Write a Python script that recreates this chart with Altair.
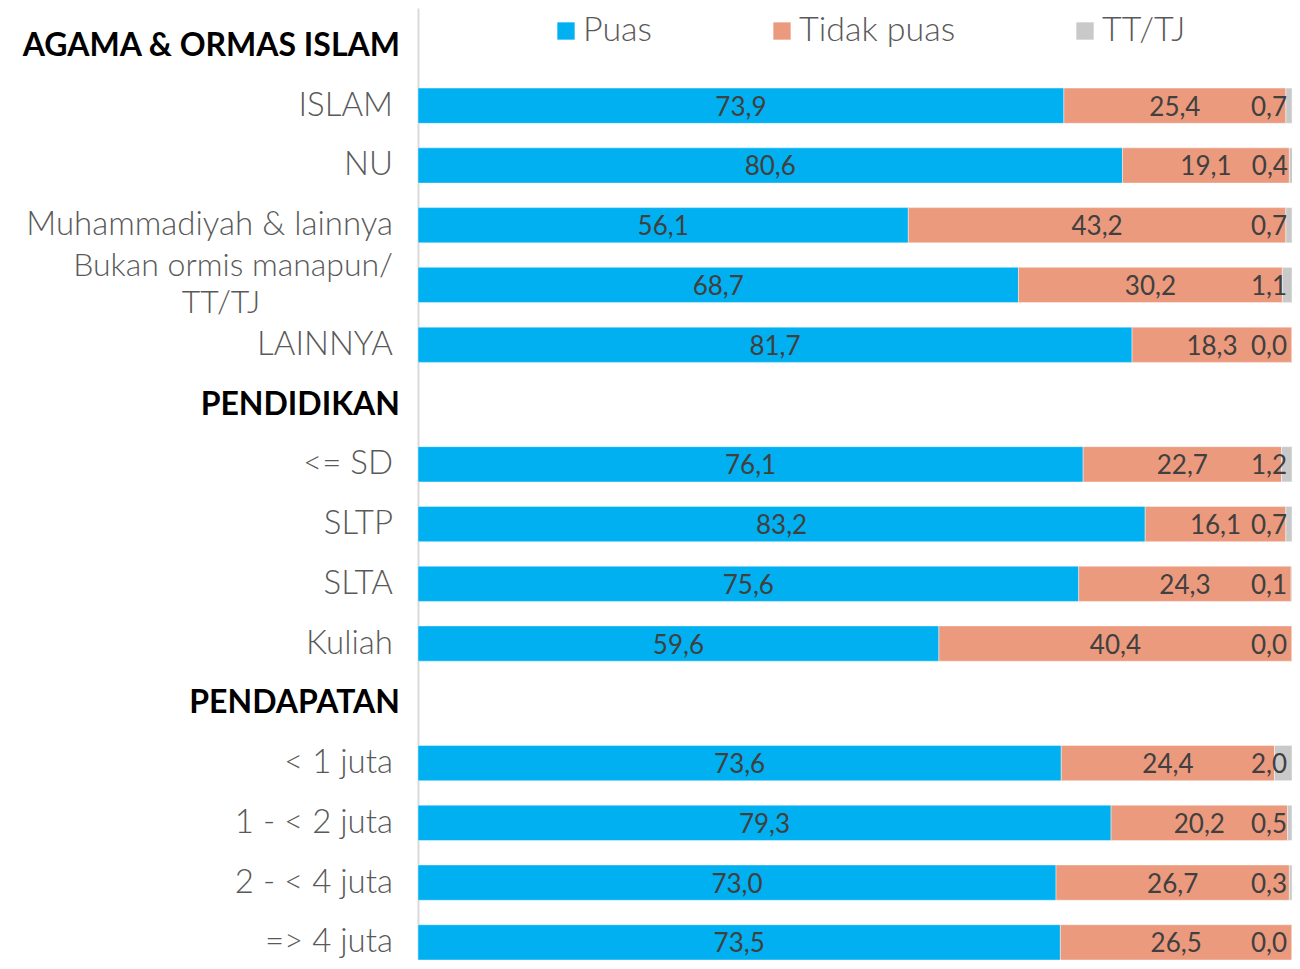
import altair as alt
import pandas as pd

rows = ["AGAMA & ORMAS ISLAM", "ISLAM", "NU", "Muhammadiyah & lainnya",
        "Bukan ormis manapun/\nTT/TJ", "LAINNYA", "PENDIDIKAN", "<= SD", "SLTP",
        "SLTA", "Kuliah", "PENDAPATAN", "< 1 juta", "1 - < 2 juta",
        "2 - < 4 juta", "=> 4 juta"]
is_header = [True, False, False, False, False, False, True, False, False,
             False, False, True, False, False, False, False]
puas = [None, 73.9, 80.6, 56.1, 68.7, 81.7, None, 76.1, 83.2, 75.6, 59.6,
        None, 73.6, 79.3, 73.0, 73.5]
tidak_puas = [None, 25.4, 19.1, 43.2, 30.2, 18.3, None, 22.7, 16.1, 24.3, 40.4,
              None, 24.4, 20.2, 26.7, 26.5]
tt_tj = [None, 0.7, 0.4, 0.7, 1.1, 0.0, None, 1.2, 0.7, 0.1, 0.0,
         None, 2.0, 0.5, 0.3, 0.0]
series = ["Puas", "Tidak puas", "TT/TJ"]
colors = ["#00B0F0", "#EC9A7D", "#C9C9C9"]

recs = []
for i, r in enumerate(rows):
    if puas[i] is None:
        continue
    vals = [puas[i], tidak_puas[i], tt_tj[i]]
    start = 0.0
    for k, s in enumerate(series):
        v = vals[k]
        recs.append(dict(row=r, series=s, order=k, start=start, end=start + v,
                         mid=start + v / 2, label=f"{v:.1f}".replace(".", ",")))
        start += v
df = pd.DataFrame(recs)

lab_rows = []
for r, h in zip(rows, is_header):
    parts = r.split("\n")
    lab_rows.append(dict(row=r, line1=parts[0],
                         line2=parts[1] if len(parts) > 1 else "",
                         header=h, multi=len(parts) > 1))
lab = pd.DataFrame(lab_rows)

FONT = "Lato"
yenc = alt.Y("row:N", scale=alt.Scale(domain=rows, paddingInner=0.41,
                                       paddingOuter=0.17, align=1),
             axis=alt.Axis(labels=False, ticks=False, title=None, grid=False,
                           domainColor="#D9D9D9", domainWidth=2))
xscale = alt.Scale(domain=[0, 100], nice=False, zero=True)

bars = alt.Chart(df).mark_bar(stroke="white", strokeWidth=0.6, strokeOpacity=0.7).encode(
    x=alt.X("start:Q", scale=xscale, axis=None),
    x2="end:Q",
    y=yenc,
    color=alt.Color("series:N", scale=alt.Scale(domain=series, range=colors),
                    legend=alt.Legend(title=None, orient="none", legendX=131, legendY=6,
                                      direction="horizontal", columns=3,
                                      columnPadding=112, labelFontSize=34,
                                      labelFont=FONT, labelColor="#595959",
                                      labelFontWeight=300, labelLimit=400,
                                      symbolType="square", symbolSize=300,
                                      symbolStrokeWidth=0, labelOffset=0,
                                      padding=0)),
)

mid_text = alt.Chart(df).transform_filter(
    alt.FieldOneOfPredicate(field="series", oneOf=["Puas", "Tidak puas"])
).mark_text(align="center", baseline="middle", fontSize=26, font=FONT,
            color="#404040", dy=2).encode(
    x=alt.X("mid:Q", scale=xscale, axis=None),
    y=alt.Y("row:N"),
    text="label:N",
)

end_text = alt.Chart(df).transform_filter(
    alt.FieldEqualPredicate(field="series", equal="TT/TJ")
).mark_text(align="right", baseline="middle", fontSize=26, font=FONT,
            color="#404040", dx=-5, dy=2).encode(
    x=alt.X("end:Q", scale=xscale, axis=None),
    y=alt.Y("row:N"),
    text="label:N",
)

cat_base = alt.Chart(lab)
cat_single = cat_base.transform_filter("!datum.header && !datum.multi").mark_text(
    align="right", baseline="middle", fontSize=33, font=FONT, color="#595959",
    fontWeight=300).encode(
    x=alt.value(-25), y=alt.Y("row:N"), text="line1:N")
cat_multi1 = cat_base.transform_filter("datum.multi").mark_text(
    align="right", baseline="middle", fontSize=32, font=FONT, color="#595959",
    fontWeight=300, dy=-19).encode(
    x=alt.value(-25), y=alt.Y("row:N"), text="line1:N")
cat_multi2 = cat_base.transform_filter("datum.multi").mark_text(
    align="center", baseline="middle", fontSize=32, font=FONT, color="#595959",
    fontWeight=300, dy=18, dx=-172).encode(
    x=alt.value(-25), y=alt.Y("row:N"), text="line2:N")

head_text = cat_base.transform_filter("datum.header").mark_text(
    align="right", baseline="middle", fontSize=32, font=FONT, color="#000000",
    fontWeight="bold").encode(
    x=alt.value(-18), y=alt.Y("row:N"), text="line1:N")

chart = alt.layer(bars, mid_text, end_text, cat_single, cat_multi1, cat_multi2,
                  head_text).properties(
    width=874, height=952,
    padding={"left": 410, "top": 0, "right": 0, "bottom": 0},
    autosize="none",
    background="white",
).configure_view(strokeWidth=0, stroke="transparent")

chart.save("out.html", embed_options={"renderer": "svg", "actions": False})
